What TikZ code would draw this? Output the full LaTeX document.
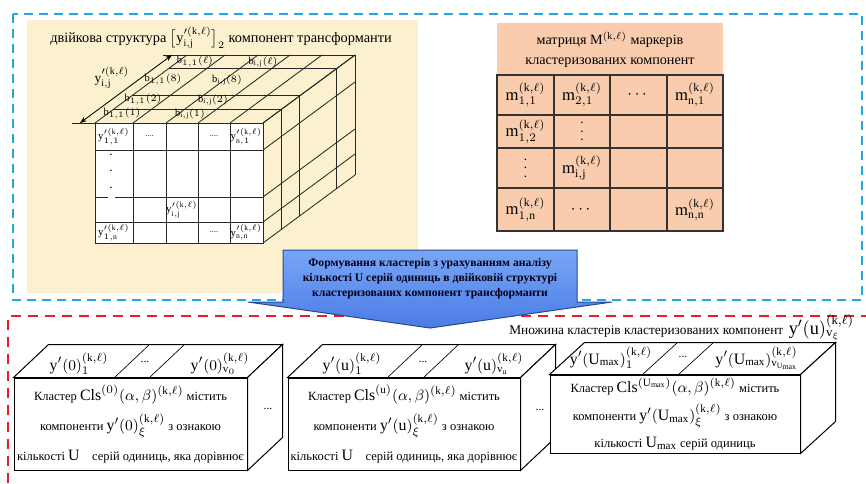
\documentclass[tikz,border=0pt]{standalone}
\usepackage{amsmath}
\usepackage{fontspec}
\setmainfont{Liberation Serif}
\usetikzlibrary{arrows.meta,positioning,calc}

\newcommand{\klsup}{(\mathrm{k},\ell)}
\newcommand{\pxu}{0.6pt}
\newcommand{\mth}[1]{{\fontsize{9.5}{11}\selectfont$#1$}}

\definecolor{cream}{RGB}{252,241,207}
\definecolor{peach}{RGB}{248,204,173}
\definecolor{framecyan}{RGB}{28,170,228}
\definecolor{framered}{RGB}{232,30,36}
\definecolor{arrowtop}{RGB}{120,166,246}
\definecolor{arrowbottom}{RGB}{74,124,228}
\definecolor{arrowedge}{RGB}{40,72,150}

\begin{document}
\begin{tikzpicture}[
  x=0.6pt, y=-0.6pt,
  cubeline/.style={draw=black!85, line width=0.5pt},
  mgrid/.style={draw=black!80, line width=0.8pt},
  cell/.style={inner sep=0pt, font=\fontsize{6.5}{7}\selectfont},
  bit/.style={inner sep=0pt, font=\fontsize{6.3}{7}\selectfont},
  mcell/.style={inner sep=0pt, font=\fontsize{10}{12}\selectfont},
  heading/.style={inner sep=0pt, font=\fontsize{8.6}{10}\selectfont},
  face/.style={draw, fill=white, line width=0.6pt},
  clstext/.style={align=center, inner sep=0pt, font=\fontsize{7.5}{18}\selectfont},
  toplabel/.style={inner sep=0pt, anchor=base, font=\fontsize{9.5}{11}\selectfont},
  smalldots/.style={inner sep=0pt, font=\fontsize{7}{8}\selectfont},
  vdotsup/.style={inner sep=0pt, rotate=90, font=\fontsize{8}{8}\selectfont},
  dimarr/.style={{Stealth[length=4pt,width=3pt]}-{Stealth[length=4pt,width=3pt]}, line width=0.5pt},
  cyandash/.style={draw=framecyan, line width=1.3pt, dash pattern=on 5.4pt off 3.6pt},
  reddash/.style={draw=framered, line width=1.5pt, dash pattern=on 6pt off 4.2pt},
  bigarrow/.style={draw=arrowedge, line width=0.6pt, top color=arrowtop, bottom color=arrowbottom},
  arrowtext/.style={align=center, inner sep=0pt, text=black!90!blue, font=\bfseries\fontsize{7}{9}\selectfont}
]
\useasboundingbox (0,0) rectangle (866,483);

% backgrounds and frames
\fill[cream] (27,20) rectangle (418,293);
\fill[peach] (497,23) rectangle (723,231);
\draw[cyandash] (13,14) rectangle (862,300);
\draw[reddash] (8,483) -- (8,316) -- (866,316);

% binary structure
\node[heading] (bintitle) at (221,38) {двійкова структура $\bigl[\mathrm{y}^{\prime\klsup}_{\mathrm{i,j}}\bigr]_2$ компонент трансформанти};

\foreach \k in {1,2,4,5} {
  \draw[cubeline] ($(95,123)+\k*(18.4,-13.6)$) -- ++(168,0);
  \draw[cubeline] ($(263,123)+\k*(18.4,-13.6)$) -- ++(0,120);
}
\foreach \x in {95,133,166,198,230,263}
  \draw[cubeline] (\x,123) -- ++(92,-68);
\foreach \y in {123,150,197,222,243}
  \draw[cubeline] (263,\y) -- ++(92,-68);

\fill[white] (95,123) rectangle (263,243);
\draw[cubeline] (95,123) rectangle (263,243);
\foreach \x in {133,166,198,230}
  \draw[cubeline] (\x,123) -- (\x,243);
\foreach \y in {150,222}
  \draw[cubeline] (95,\y) -- (263,\y);
\draw[cubeline] (95,197) -- (108,197) (115,197) -- (263,197);

\node[cell] (y11) at (114,136.5) {$\mathrm{y}^{\prime\klsup}_{1,1}$};
\node[cell] (dotsa) at (149.5,136.5) {\tiny ....};
\node[cell] (dotsb) at (214,136.5) {\tiny ....};
\node[cell] (yn1) at (246.5,136.5) {$\mathrm{y}^{\prime\klsup}_{\mathrm{n},1}$};
\node[vdotsup] (vdotsa) at (111,171) {.\hspace{8pt}.\hspace{8pt}.};
\node[cell] (yij) at (182,209.5) {$\mathrm{y}^{\prime\klsup}_{\mathrm{i,j}}$};
\node[cell] (y1n) at (114,232.5) {$\mathrm{y}^{\prime\klsup}_{1,\mathrm{n}}$};
\node[cell] (dotsc) at (214,232.5) {\tiny ....};
\node[cell] (ynn) at (246.5,232.5) {$\mathrm{y}^{\prime\klsup}_{\mathrm{n,n}}$};

\node[bit] (bfirsta) at (122,114) {$\mathrm{b}_{1,1}(1)$};
\node[bit] (bija) at (190,114) {$\mathrm{b}_{\mathrm{i,j}}(1)$};
\node[bit] (bfirstb) at (143,100) {$\mathrm{b}_{1,1}(2)$};
\node[bit] (bijb) at (213,100) {$\mathrm{b}_{\mathrm{i,j}}(2)$};
\node[bit] (bfirstc) at (163,80) {$\mathrm{b}_{1,1}(8)$};
\node[bit] (bijc) at (227,80) {$\mathrm{b}_{\mathrm{i,j}}(8)$};
\node[bit] (bfirstd) at (195,62) {$\mathrm{b}_{1,1}(\ell)$};
\node[bit] (bijd) at (263,62) {$\mathrm{b}_{\mathrm{i,j}}(\ell)$};

\draw[cubeline] (95,123) -- (72,123);
\draw[cubeline] (187,55) -- (163,55);
\coordinate (dimlow) at (80,123);
\coordinate (dimhigh) at (172,55);
\draw[dimarr] (dimlow) -- (dimhigh);
\node[cell, font=\fontsize{8}{9}\selectfont] (dimlabel) at (112,78) {$\mathrm{y}^{\prime\klsup}_{\mathrm{i,j}}$};

% marker matrix
\node[heading, font=\fontsize{8.5}{10}\selectfont] (mtitlea) at (610,40) {матриця $\mathrm{M}^{\klsup}$ маркерів};
\node[heading, font=\fontsize{8.5}{10}\selectfont] (mtitleb) at (610,63) {кластеризованих компонент};
\draw[mgrid] (497,75) rectangle (723,231);
\foreach \x in {554,610,667}
  \draw[mgrid] (\x,75) -- (\x,231);
\foreach \y in {115,148,188}
  \draw[mgrid] (497,\y) -- (723,\y);

\node[mcell] (m11) at (525.5,95) {$\mathrm{m}^{\klsup}_{1,1}$};
\node[mcell] (m21) at (582,95) {$\mathrm{m}^{\klsup}_{2,1}$};
\node[mcell] (mdotsa) at (638.5,95) {$\cdots$};
\node[mcell] (mn1) at (695,95) {$\mathrm{m}^{\klsup}_{\mathrm{n},1}$};
\node[mcell] (m12) at (525.5,131.5) {$\mathrm{m}^{\klsup}_{1,2}$};
\node[vdotsup] (mvdotsa) at (582,131.5) {.\hspace{3pt}.\hspace{3pt}.};
\node[vdotsup] (mvdotsb) at (525.5,168) {.\hspace{3pt}.\hspace{3pt}.};
\node[mcell] (mij) at (582,168) {$\mathrm{m}^{\klsup}_{\mathrm{i,j}}$};
\node[mcell] (m1n) at (525.5,209.5) {$\mathrm{m}^{\klsup}_{1,\mathrm{n}}$};
\node[mcell] (mdotsb) at (582,209.5) {$\cdots$};
\node[mcell] (mnn) at (695,209.5) {$\mathrm{m}^{\klsup}_{\mathrm{n,n}}$};

% forming step
\draw[bigarrow] (283,250) -- (577,250) -- (577,302) -- (612,302) -- (430,328)
  -- (248,302) -- (283,302) -- cycle;
\node[arrowtext] (form) at (430,279) {Формування кластерів з урахуванням аналізу\\
  кількості U серій одиниць в двійковій структурі\\
  кластеризованих компонент трансформанти};

\node[inner sep=0pt, anchor=base west, font=\fontsize{8}{9}\selectfont] (setlabel) at (509,334)
  {Множина кластерів кластеризованих компонент\, {\fontsize{11}{12}\selectfont$\mathrm{y}'(\mathrm{u})^{\klsup}_{\mathrm{v}_\xi}$}};

% clusters
\node[face, minimum width=233*\pxu, minimum height=92*\pxu] (cls0) at (130.5,424) {};
\draw[face] (cls0.north west) -- ++(35,-33) -- ($(cls0.north east)+(35,-33)$) -- (cls0.north east) -- cycle;
\draw[face] (cls0.north east) -- ++(35,-33) -- ($(cls0.south east)+(35,-33)$) -- (cls0.south east) -- cycle;
\draw (cls0.north west) ++(101,0) -- ++(35,-33);
\draw (cls0.north west) ++(136,0) -- ++(35,-33);
\node[toplabel] (c0first) at (79,370) {$\mathrm{y}'(0)_1^{\klsup}$};
\node[smalldots] (c0dots) at (145,362) {...};
\node[toplabel] (c0last) at (220,370) {$\mathrm{y}'(0)^{\klsup}_{\mathrm{v}_0}$};
\node[smalldots] (c0side) at (268,409) {...};
\node[clstext] (cls0text) at (cls0) {Кластер \mth{\mathrm{Cls}^{(0)}(\alpha,\beta)^{\klsup}} містить\\
  компоненти \mth{\mathrm{y}'(0)^{\klsup}_{\xi}} з ознакою\\
  кількості \mth{\mathrm{U}}\quad серій одиниць, яка дорівнює};

\node[face, minimum width=232*\pxu, minimum height=92*\pxu] (clsu) at (404,424) {};
\draw[face] (clsu.north west) -- ++(35,-33) -- ($(clsu.north east)+(35,-33)$) -- (clsu.north east) -- cycle;
\draw[face] (clsu.north east) -- ++(35,-33) -- ($(clsu.south east)+(35,-33)$) -- (clsu.south east) -- cycle;
\draw (clsu.north west) ++(100,0) -- ++(35,-33);
\draw (clsu.north west) ++(136,0) -- ++(35,-33);
\node[toplabel] (cufirst) at (352,370) {$\mathrm{y}'(\mathrm{u})_1^{\klsup}$};
\node[smalldots] (cudots) at (423,362) {...};
\node[toplabel] (culast) at (494,370) {$\mathrm{y}'(\mathrm{u})^{\klsup}_{\mathrm{v}_{\mathrm{u}}}$};
\node[smalldots] (cuside) at (540,410) {...};
\node[clstext] (clsutext) at (clsu) {Кластер \mth{\mathrm{Cls}^{(\mathrm{u})}(\alpha,\beta)^{\klsup}} містить\\
  компоненти \mth{\mathrm{y}'(\mathrm{u})^{\klsup}_{\xi}} з ознакою\\
  кількості \mth{\mathrm{U}}\quad серій одиниць, яка дорівнює};

\node[face, minimum width=250*\pxu, minimum height=78*\pxu] (clsmax) at (675,414) {};
\draw[face] (clsmax.north west) -- ++(35,-32) -- ($(clsmax.north east)+(35,-32)$) -- (clsmax.north east) -- cycle;
\draw[face] (clsmax.north east) -- ++(35,-32) -- ($(clsmax.south east)+(35,-32)$) -- (clsmax.south east) -- cycle;
\draw (clsmax.north west) ++(93,0) -- ++(35,-32);
\draw (clsmax.north west) ++(129,0) -- ++(35,-32);
\node[toplabel] (cmfirst) at (611,364) {$\mathrm{y}'(\mathrm{U}_{\mathrm{max}})_1^{\klsup}$};
\node[smalldots] (cmdots) at (683,357) {...};
\node[toplabel] (cmlast) at (757,364) {$\mathrm{y}'(\mathrm{U}_{\mathrm{max}})^{\klsup}_{\mathrm{v}_{\mathrm{U}_{\mathrm{max}}}}$};
\node[clstext, font=\fontsize{7.5}{16.5}\selectfont] (clsmaxtext) at (clsmax) {Кластер \mth{\mathrm{Cls}^{(\mathrm{U}_{\mathrm{max}})}(\alpha,\beta)^{\klsup}} містить\\
  компоненти \mth{\mathrm{y}'(\mathrm{U}_{\mathrm{max}})^{\klsup}_{\xi}} з ознакою\\
  кількості \mth{\mathrm{U}_{\mathrm{max}}} серій одиниць};

\end{tikzpicture}
\end{document}
